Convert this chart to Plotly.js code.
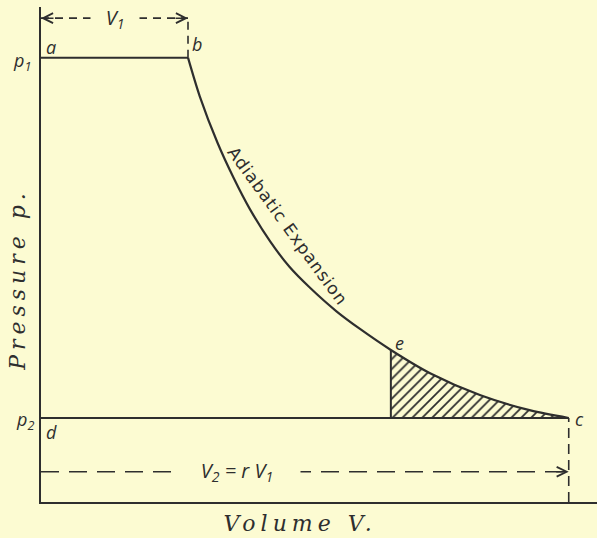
<!DOCTYPE html>
<html>
<head>
<meta charset="utf-8">
<script src="https://cdn.plot.ly/plotly-3.0.1.min.js"></script>
<style>
  html, body { margin: 0; padding: 0; background: #fcfbd2; }
  #chart { width: 597px; height: 538px; }
</style>
</head>
<body>
<div id="chart"></div>
<script>
// Adiabatic expansion curve b -> c (volume in units of v1, pressure in units of p2)
const volume   = [1.00, 1.08, 1.20, 1.31, 1.42, 1.56, 1.69, 1.83, 2.01, 2.17, 2.38, 2.65, 2.99, 3.33, 3.59];
const pressure = [5.29, 4.83, 4.28, 3.86, 3.49, 3.10, 2.80, 2.55, 2.27, 2.06, 1.81, 1.53, 1.27, 1.09, 1.00];
const eIndex = 10;              // position of point e on the curve
const pointLabels = ['a', 'b', 'c', 'd', 'e'];
const axisTitles = ['Volume V.', 'Pressure p.'];
const curveLabel = 'Adiabatic Expansion';
const arrowHeights = [5.76, 0.36]; // levels of the v1 and V2 dimension arrows

const bg = '#fcfbd2';
const ink = '#2e2e2e';
const v1 = volume[0], V2 = volume[volume.length - 1];
const p1 = pressure[0], p2 = pressure[pressure.length - 1];
const Ve = volume[eIndex], pe = pressure[eIndex];

const lineStyle = {color: ink, width: 2};
const traces = [
  { // hatched work area e-c
    x: volume.slice(eIndex).concat([Ve]),
    y: pressure.slice(eIndex).concat([p2]),
    mode: 'lines', fill: 'toself', line: {width: 0},
    fillcolor: bg,
    fillpattern: {shape: '/', size: 7, solidity: 0.25, fgcolor: ink, bgcolor: bg},
    hoverinfo: 'skip', showlegend: false, cliponaxis: false
  },
  {x: [0, v1], y: [p1, p1], mode: 'lines', line: lineStyle, showlegend: false, cliponaxis: false},
  {x: volume, y: pressure, mode: 'lines', line: {color: ink, width: 2.2, shape: 'spline', smoothing: 0.8}, showlegend: false, cliponaxis: false},
  {x: [0, V2], y: [p2, p2], mode: 'lines', line: lineStyle, showlegend: false, cliponaxis: false},
  {x: [Ve, Ve], y: [p2, pe], mode: 'lines', line: lineStyle, showlegend: false, cliponaxis: false}
];

const dashLine = (x0, y0, x1, y1, dash) => ({
  type: 'line', xref: 'x', yref: 'y', x0, y0, x1, y1,
  line: {color: ink, width: 1.6, dash}
});
const shapes = [
  dashLine(0, arrowHeights[0], v1, arrowHeights[0], '8px,6px'),
  dashLine(v1, p1, v1, arrowHeights[0], '8px,6px'),
  dashLine(0, arrowHeights[1], V2, arrowHeights[1], '18px,10px'),
  dashLine(V2, 0, V2, p2, '10px,6px')
];

const labelFont = {family: 'Open Sans, DejaVu Sans, sans-serif', size: 18, color: ink, style: 'italic'};
const lab = (text, x, y, xs, ys, extra) => Object.assign({
  text, x, y, xref: 'x', yref: 'y', xshift: xs, yshift: ys,
  showarrow: false, font: labelFont
}, extra || {});
const arrowHead = (x, y, ax) => ({
  x, y, xref: 'x', yref: 'y', ax, ay: 0, text: '', showarrow: true,
  arrowhead: 5, arrowsize: 1.3, arrowwidth: 1.5, arrowcolor: ink
});
const titleFont = {family: 'DejaVu Serif, serif', size: 22, color: ink, style: 'italic'};

const annotations = [
  lab('<i>p</i><sub>1</sub>', 0, p1, -19, -4),
  lab('<i>p</i><sub>2</sub>', 0, p2, -16, -2),
  lab(pointLabels[0], 0, p1, 10, 11),
  lab(pointLabels[1], v1, p1, 9, 14),
  lab(pointLabels[2], V2, p2, 11, -1),
  lab(pointLabels[3], 0, p2, 10, -14),
  lab(pointLabels[4], Ve, pe, 9, 7),
  lab('<i>V</i><sub>1</sub>', v1 / 2, arrowHeights[0], 0, 0,
      {bgcolor: bg, width: 46, font: Object.assign({}, labelFont, {size: 20})}),
  lab('<i>V</i><sub>2</sub> = <i>r V</i><sub>1</sub>', 1.33, arrowHeights[1], 0, 0,
      {bgcolor: bg, width: 124, font: Object.assign({}, labelFont, {size: 20})}),
  arrowHead(0, arrowHeights[0], 14),
  arrowHead(v1, arrowHeights[0], -14),
  arrowHead(V2, arrowHeights[1], -14),
  { // curve label
    text: curveLabel, x: 1.68, y: 3.29, xref: 'x', yref: 'y', showarrow: false,
    textangle: 54, font: {family: 'DejaVu Sans, sans-serif', size: 17, color: ink}
  },
  { // x axis title
    text: axisTitles[0], x: 0.466, y: -0.044, xref: 'paper', yref: 'paper',
    xanchor: 'center', yanchor: 'middle', showarrow: false, font: titleFont
  },
  { // y axis title
    text: axisTitles[1], x: -0.043, y: 0.45, xref: 'paper', yref: 'paper',
    xanchor: 'center', yanchor: 'middle', showarrow: false, textangle: -90, font: titleFont
  }
];

const axisCommon = {
  showgrid: false, zeroline: false, showticklabels: false, ticks: '',
  showline: true, linecolor: ink, linewidth: 2, fixedrange: true
};
const layout = {
  width: 597, height: 538,
  margin: {l: 41, r: 0, t: 7, b: 36},
  paper_bgcolor: bg, plot_bgcolor: bg,
  xaxis: Object.assign({range: [0, 556 / 147]}, axisCommon),
  yaxis: Object.assign({range: [0, 495 / 84]}, axisCommon),
  shapes, annotations, showlegend: false
};

Plotly.newPlot('chart', traces, layout, {displayModeBar: false, staticPlot: true}).then(() => {
  const n = annotations.length;
  const spacing = {[n - 2]: '5px', [n - 1]: '5px', [n - 3]: '1px'};
  Object.keys(spacing).forEach(i => {
    document.querySelectorAll('.annotation[data-index="' + i + '"] text').forEach(t => {
      t.style.letterSpacing = spacing[i];
    });
  });
});
</script>
</body>
</html>
